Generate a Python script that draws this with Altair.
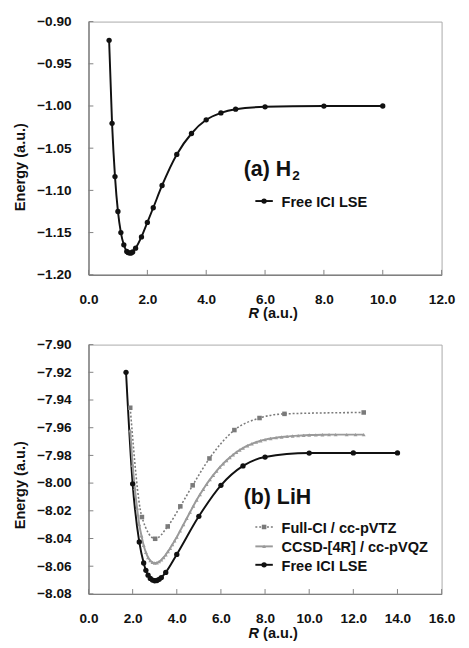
import altair as alt
import pandas as pd

FONT = "Liberation Sans"

# ---------------- data: (a) H2 ----------------
h2_r = [0.7, 0.8, 0.9, 1.0, 1.1, 1.2, 1.3, 1.35, 1.4, 1.45, 1.5, 1.6, 1.8, 2.0,
        2.2, 2.5, 3.0, 3.5, 4.0, 4.5, 5.0, 6.0, 8.0, 10.0]
h2_e = [-0.9222, -1.0205, -1.0837, -1.1250, -1.1500, -1.1645, -1.1723, -1.1738,
        -1.1744, -1.1742, -1.1730, -1.1685, -1.1551, -1.1380, -1.1206, -1.0942,
        -1.0574, -1.0326, -1.0164, -1.0082, -1.0038, -1.0010, -1.0001, -1.0000]

# ---------------- data: (b) LiH ----------------
ici_r = [1.7, 2.0, 2.3, 2.5, 2.6, 2.7, 2.8, 2.9, 3.0, 3.1, 3.2, 3.3, 3.5, 4.0,
         5.0, 6.0, 7.0, 8.0, 10.0, 12.0, 14.0]
ici_e = [-7.9200, -8.0005, -8.0425, -8.0577, -8.0630, -8.0665, -8.0688, -8.0700,
         -8.0705, -8.0703, -8.0695, -8.0682, -8.0645, -8.0515, -8.0240, -8.0016,
         -7.9876, -7.9812, -7.9783, -7.9782, -7.9782]

fci_r = [1.89, 2.42, 3.02, 3.59, 4.16, 4.72, 5.48, 6.61, 7.75, 8.88, 12.47]
fci_e = [-7.9456, -8.0245, -8.0402, -8.0313, -8.0168, -8.0016, -7.9822, -7.9617,
         -7.9530, -7.9500, -7.9490]

ccsd_r = [1.89, 2.0, 2.1, 2.2, 2.3, 2.4, 2.5, 2.6, 2.7, 2.8, 2.9, 3.0, 3.1, 3.2,
          3.3, 3.4, 3.5, 3.6, 3.7, 3.8, 3.9, 4.0, 4.15, 4.3, 4.45, 4.6, 4.75,
          4.9, 5.05, 5.2, 5.35, 5.5, 5.65, 5.8, 5.95, 6.1, 6.25, 6.4, 6.55, 6.7,
          6.85, 7.0, 7.2, 7.4, 7.6, 7.8, 8.0, 8.25, 8.5, 8.75, 9.0, 9.25, 9.5,
          9.75, 10.0, 10.3, 10.6, 10.9, 11.2, 11.7, 12.1, 12.47]
ccsd_e = [-7.9620, -7.9870, -8.0040, -8.0180, -8.0300, -8.0380, -8.0450, -8.0500,
          -8.0537, -8.0560, -8.0572, -8.0577, -8.0575, -8.0567, -8.0554, -8.0537,
          -8.0517, -8.0494, -8.0470, -8.0444, -8.0417, -8.0390, -8.0345, -8.0300,
          -8.0255, -8.0210, -8.0165, -8.0122, -8.0082, -8.0044, -8.0008, -7.9975,
          -7.9943, -7.9913, -7.9885, -7.9860, -7.9837, -7.9815, -7.9795, -7.9777,
          -7.9761, -7.9747, -7.9730, -7.9716, -7.9704, -7.9694, -7.9686, -7.9678,
          -7.9672, -7.9667, -7.9663, -7.9660, -7.9657, -7.9655, -7.9653, -7.9652,
          -7.9651, -7.9650, -7.9650, -7.9650, -7.9650, -7.9650]

# axis tick labels
top_xticks = [0.0, 2.0, 4.0, 6.0, 8.0, 10.0, 12.0]
top_yticks = [-1.20, -1.15, -1.10, -1.05, -1.00, -0.95, -0.90]
bot_xticks = [0.0, 2.0, 4.0, 6.0, 8.0, 10.0, 12.0, 14.0, 16.0]
bot_yticks = [-8.08, -8.06, -8.04, -8.02, -8.00, -7.98, -7.96, -7.94, -7.92, -7.90]

W = 364
H_TOP = 261
H_BOT = 257

BLACK = "#111111"
FCI_GRAY = "#7a7a7a"
CCSD_GRAY = "#9a9a9a"


def axes(xdom, xticks, ydom, yticks):
    x = alt.X("R:Q", scale=alt.Scale(domain=xdom, nice=False, zero=False),
              axis=alt.Axis(values=xticks, format=".1f", title=None, grid=False,
                            tickSize=0, labelPadding=19, labelOverlap=False,
                            labelFlush=False))
    y = alt.Y("E:Q", scale=alt.Scale(domain=ydom, nice=False, zero=False),
              axis=alt.Axis(values=yticks, format=".2f", title=None, grid=False,
                            tickSize=0, labelPadding=18,
                            labelOverlap=False, labelFlush=False))
    return x, y


def series(r, e, X, Y, color, shape, size, width, dash=None):
    df = pd.DataFrame({"R": r, "E": e})
    line_kw = dict(color=color, strokeWidth=width, interpolate="monotone")
    if dash:
        line_kw["strokeDash"] = dash
    line = alt.Chart(df).mark_line(**line_kw).encode(x=X, y=Y)
    pts = alt.Chart(df).mark_point(filled=True, color=color, shape=shape,
                                   size=size, opacity=1).encode(x=X, y=Y)
    return [line, pts]


def text(label, x, y, size, italic=False, weight="bold", baseline="alphabetic",
         align="left", angle=0):
    kw = dict(font=FONT, fontSize=size, fontWeight=weight, align=align,
              baseline=baseline, color=BLACK, angle=angle)
    if italic:
        kw["fontStyle"] = "italic"
    return alt.Chart(pd.DataFrame({"t": [label]})).mark_text(**kw).encode(
        text="t:N", x=alt.value(x), y=alt.value(y))


def legend_row(label, y, color, shape, size, width, dash=None):
    sym_kw = dict(color=color, strokeWidth=width)
    if dash:
        sym_kw["strokeDash"] = dash
    d = pd.DataFrame({"t": [label]})
    rule = alt.Chart(d).mark_rule(**sym_kw).encode(
        x=alt.value(172), x2=alt.value(190), y=alt.value(y))
    pt = alt.Chart(d).mark_point(filled=True, color=color, shape=shape, size=size,
                                 opacity=1).encode(x=alt.value(181), y=alt.value(y))
    tx = alt.Chart(d).mark_text(font=FONT, fontSize=15, fontWeight="bold", align="left",
                                baseline="middle", color=BLACK).encode(
        text="t:N", x=alt.value(199), y=alt.value(y + 1))
    return [rule, pt, tx]


def inward_ticks(xticks, yticks, X, Y, h):
    dx = pd.DataFrame({"R": xticks})
    dy = pd.DataFrame({"E": yticks})
    tx = alt.Chart(dx).mark_rule(color="#808080", strokeWidth=1).encode(
        x=X, y=alt.value(h), y2=alt.value(h - 5))
    ty = alt.Chart(dy).mark_rule(color="#808080", strokeWidth=1).encode(
        y=Y, x=alt.value(0), x2=alt.value(5))
    return [tx, ty]


def axis_titles(h, ymid):
    return [
        text("R", 165, h + 45, 15, italic=True),
        text("(a.u.)", 180, h + 45, 15),
        text("Energy (a.u.)", -70, ymid, 15, baseline="middle", align="center", angle=270),
    ]


# ---------------- top panel ----------------
TX, TY = axes([0, 12], top_xticks, [-1.2, -0.9], top_yticks)
top_layers = series(h2_r, h2_e, TX, TY, BLACK, "circle", 30, 2) \
    + inward_ticks(top_xticks, top_yticks, TX, TY, H_TOP) + [
    text("(a) H", 160, 159, 22),
    text("2", 210, 163, 14),
] + legend_row("Free ICI LSE", 185, BLACK, "circle", 30, 2) + axis_titles(H_TOP, 150)
top = alt.layer(*top_layers).properties(width=W, height=H_TOP)

# ---------------- bottom panel ----------------
BX, BY = axes([0, 16], bot_xticks, [-8.08, -7.90], bot_yticks)
ici = series(ici_r, ici_e, BX, BY, BLACK, "circle", 30, 2)
fci = series(fci_r, fci_e, BX, BY, FCI_GRAY, "square", 22, 1.6, dash=[2, 2])
cc = series(ccsd_r, ccsd_e, BX, BY, CCSD_GRAY, "triangle-up", 16, 2)

bot_layers = [ici[0], fci[0], fci[1], cc[0], cc[1], ici[1]] \
    + inward_ticks(bot_xticks, bot_yticks, BX, BY, H_BOT) + [
    text("(b) LiH", 160, 164, 22),
] + legend_row("Full-CI / cc-pVTZ", 188, FCI_GRAY, "square", 22, 1.6, dash=[2, 2]) \
  + legend_row("CCSD-[4R] / cc-pVQZ", 208, CCSD_GRAY, "triangle-up", 16, 2) \
  + legend_row("Free ICI LSE", 227, BLACK, "circle", 30, 2) + axis_titles(H_BOT, 145)
bottom = alt.layer(*bot_layers).properties(width=W, height=H_BOT)

chart = alt.vconcat(
    top, bottom, spacing=15, background="white",
    padding={"top": -4, "left": 5, "right": 5, "bottom": 5},
).configure_view(
    stroke="#a8a8a8", strokeWidth=1
).configure_axis(
    labelFont=FONT, labelFontSize=14, labelFontWeight="bold", labelColor=BLACK,
    domainColor="#808080", domainWidth=1.5, labelOverlap=False,
)

chart.save("out.html", embed_options={"renderer": "svg", "actions": False})
